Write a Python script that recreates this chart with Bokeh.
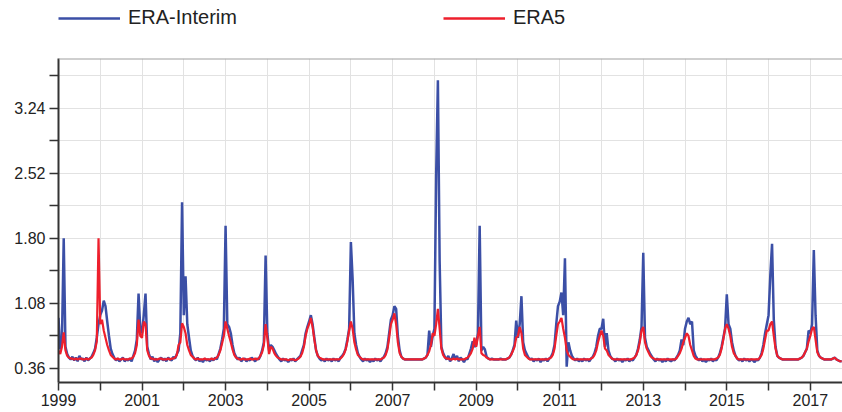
import numpy as np
from bokeh.plotting import figure
from bokeh.layouts import column
from bokeh.models import (Range1d, FixedTicker, PrintfTickFormatter, Legend,
                          LegendItem, Span)
from bokeh.embed import file_html
from bokeh.resources import INLINE

# ---- data (semi-monthly samples) ----
START_YEAR = 1999
STEPS_PER_YEAR = 24

ERA_INTERIM = [
    # 1999
    0.92, 0.57, 0.70, 1.80, 0.60, 0.52, 0.48, 0.46, 0.49, 0.45, 0.48, 0.44, 0.50, 0.46, 0.47, 0.44, 0.48, 0.45, 0.47, 0.49, 0.53, 0.58, 0.70, 0.85,
    # 2000
    0.95, 1.00, 1.11, 1.05, 0.88, 0.72, 0.58, 0.52, 0.48, 0.45, 0.47, 0.44, 0.46, 0.48, 0.44, 0.46, 0.45, 0.47, 0.44, 0.50, 0.56, 0.68, 1.19, 0.80,
    # 2001
    0.75, 0.95, 1.19, 0.60, 0.52, 0.46, 0.49, 0.44, 0.47, 0.43, 0.46, 0.48, 0.45, 0.47, 0.44, 0.48, 0.46, 0.45, 0.49, 0.47, 0.52, 0.56, 0.75, 2.20,
    # 2002
    0.95, 1.38, 0.85, 0.70, 0.56, 0.50, 0.47, 0.45, 0.48, 0.44, 0.46, 0.43, 0.47, 0.45, 0.46, 0.44, 0.47, 0.45, 0.48, 0.46, 0.52, 0.58, 0.68, 0.80,
    # 2003
    1.94, 0.85, 0.82, 0.75, 0.62, 0.53, 0.49, 0.46, 0.48, 0.44, 0.46, 0.47, 0.44, 0.46, 0.45, 0.48, 0.46, 0.44, 0.47, 0.46, 0.50, 0.56, 0.65, 1.61,
    # 2004
    0.75, 0.56, 0.62, 0.60, 0.56, 0.52, 0.49, 0.46, 0.44, 0.47, 0.45, 0.46, 0.43, 0.46, 0.45, 0.47, 0.44, 0.46, 0.48, 0.50, 0.56, 0.62, 0.75, 0.82,
    # 2005
    0.88, 0.95, 0.85, 0.70, 0.56, 0.50, 0.47, 0.45, 0.46, 0.44, 0.47, 0.45, 0.46, 0.44, 0.47, 0.45, 0.46, 0.44, 0.48, 0.50, 0.53, 0.58, 0.68, 0.80,
    # 2006
    1.76, 1.35, 0.75, 0.62, 0.53, 0.49, 0.46, 0.44, 0.47, 0.45, 0.46, 0.43, 0.46, 0.44, 0.47, 0.45, 0.46, 0.44, 0.47, 0.49, 0.53, 0.60, 0.75, 0.90,
    # 2007
    0.95, 1.05, 1.02, 0.72, 0.56, 0.49, 0.47, 0.46, 0.46, 0.46, 0.46, 0.46, 0.46, 0.46, 0.46, 0.46, 0.46, 0.46, 0.47, 0.48, 0.51, 0.78, 0.60, 0.72,
    # 2008
    0.80, 2.50, 3.55, 1.55, 0.60, 0.53, 0.49, 0.46, 0.50, 0.44, 0.47, 0.52, 0.46, 0.50, 0.44, 0.48, 0.46, 0.43, 0.47, 0.46, 0.52, 0.58, 0.66, 0.60,
    # 2009
    0.62, 0.75, 1.94, 0.56, 0.60, 0.57, 0.49, 0.47, 0.46, 0.47, 0.46, 0.46, 0.46, 0.46, 0.47, 0.46, 0.46, 0.46, 0.47, 0.48, 0.51, 0.56, 0.62, 0.89,
    # 2010
    0.70, 0.85, 1.16, 0.65, 0.56, 0.52, 0.48, 0.46, 0.47, 0.44, 0.46, 0.45, 0.47, 0.43, 0.46, 0.45, 0.47, 0.44, 0.47, 0.49, 0.53, 0.62, 0.85, 1.05,
    # 2011
    1.10, 1.20, 0.95, 1.58, 0.38, 0.65, 0.56, 0.50, 0.47, 0.45, 0.47, 0.44, 0.46, 0.44, 0.47, 0.45, 0.46, 0.44, 0.47, 0.49, 0.53, 0.60, 0.72, 0.80,
    # 2012
    0.80, 0.91, 0.60, 0.75, 0.56, 0.50, 0.47, 0.46, 0.44, 0.47, 0.45, 0.46, 0.43, 0.46, 0.45, 0.47, 0.44, 0.46, 0.45, 0.48, 0.51, 0.58, 0.68, 0.82,
    # 2013
    1.64, 0.70, 0.60, 0.56, 0.52, 0.49, 0.46, 0.44, 0.47, 0.45, 0.46, 0.43, 0.46, 0.44, 0.47, 0.45, 0.44, 0.46, 0.45, 0.48, 0.51, 0.56, 0.68, 0.62,
    # 2014
    0.80, 0.88, 0.92, 0.85, 0.88, 0.56, 0.50, 0.47, 0.45, 0.47, 0.44, 0.46, 0.43, 0.46, 0.45, 0.47, 0.44, 0.46, 0.45, 0.48, 0.53, 0.60, 0.70, 0.80,
    # 2015
    1.18, 0.85, 0.80, 0.65, 0.56, 0.50, 0.47, 0.45, 0.46, 0.44, 0.47, 0.45, 0.46, 0.44, 0.46, 0.45, 0.43, 0.46, 0.45, 0.48, 0.53, 0.62, 0.75, 0.85,
    # 2016
    0.95, 1.39, 1.74, 0.90, 0.60, 0.50, 0.48, 0.47, 0.46, 0.46, 0.46, 0.46, 0.46, 0.46, 0.46, 0.46, 0.46, 0.46, 0.47, 0.48, 0.50, 0.54, 0.58, 0.78,
    # 2017
    0.75, 0.85, 1.67, 0.95, 0.56, 0.50, 0.48, 0.47, 0.46, 0.46, 0.46, 0.46, 0.46, 0.47, 0.48, 0.46, 0.45, 0.44, 0.44,
]

ERA5 = [
    # 1999
    0.56, 0.52, 0.60, 0.76, 0.56, 0.50, 0.48, 0.47, 0.47, 0.46, 0.47, 0.46, 0.47, 0.47, 0.46, 0.46, 0.47, 0.46, 0.47, 0.48, 0.51, 0.56, 0.66, 1.80,
    # 2000
    0.85, 0.90, 0.78, 0.70, 0.62, 0.56, 0.51, 0.49, 0.47, 0.46, 0.47, 0.46, 0.46, 0.47, 0.46, 0.46, 0.46, 0.47, 0.47, 0.49, 0.53, 0.62, 0.90, 0.72,
    # 2001
    0.70, 0.88, 0.85, 0.56, 0.50, 0.47, 0.47, 0.46, 0.46, 0.46, 0.47, 0.47, 0.46, 0.46, 0.46, 0.47, 0.46, 0.47, 0.47, 0.48, 0.51, 0.62, 0.65, 0.86,
    # 2002
    0.82, 0.75, 0.62, 0.56, 0.51, 0.49, 0.47, 0.46, 0.47, 0.46, 0.46, 0.46, 0.47, 0.46, 0.46, 0.46, 0.47, 0.46, 0.47, 0.48, 0.51, 0.56, 0.64, 0.72,
    # 2003
    0.88, 0.80, 0.72, 0.65, 0.57, 0.51, 0.48, 0.47, 0.46, 0.46, 0.47, 0.46, 0.46, 0.46, 0.47, 0.46, 0.46, 0.47, 0.46, 0.47, 0.50, 0.54, 0.62, 0.85,
    # 2004
    0.70, 0.52, 0.60, 0.58, 0.53, 0.50, 0.48, 0.47, 0.46, 0.46, 0.46, 0.46, 0.45, 0.46, 0.46, 0.46, 0.45, 0.46, 0.47, 0.49, 0.53, 0.60, 0.72, 0.80,
    # 2005
    0.85, 0.92, 0.82, 0.68, 0.56, 0.50, 0.48, 0.47, 0.46, 0.46, 0.46, 0.46, 0.46, 0.46, 0.46, 0.46, 0.46, 0.46, 0.47, 0.49, 0.52, 0.57, 0.66, 0.78,
    # 2006
    0.88, 0.80, 0.65, 0.57, 0.51, 0.49, 0.47, 0.46, 0.46, 0.46, 0.46, 0.46, 0.46, 0.46, 0.46, 0.46, 0.46, 0.46, 0.47, 0.48, 0.51, 0.57, 0.70, 0.85,
    # 2007
    0.90, 0.97, 0.85, 0.65, 0.53, 0.49, 0.47, 0.46, 0.46, 0.46, 0.46, 0.46, 0.46, 0.46, 0.46, 0.46, 0.46, 0.46, 0.47, 0.48, 0.51, 0.55, 0.62, 0.75,
    # 2008
    0.72, 0.85, 1.02, 0.80, 0.58, 0.51, 0.48, 0.47, 0.47, 0.46, 0.46, 0.47, 0.46, 0.47, 0.46, 0.46, 0.46, 0.46, 0.47, 0.48, 0.50, 0.53, 0.58, 0.70,
    # 2009
    0.60, 0.72, 0.82, 0.53, 0.51, 0.50, 0.48, 0.47, 0.46, 0.46, 0.46, 0.46, 0.46, 0.46, 0.46, 0.46, 0.46, 0.46, 0.47, 0.48, 0.51, 0.55, 0.60, 0.70,
    # 2010
    0.72, 0.82, 0.75, 0.58, 0.51, 0.49, 0.47, 0.46, 0.46, 0.46, 0.46, 0.46, 0.46, 0.46, 0.46, 0.46, 0.46, 0.46, 0.47, 0.48, 0.51, 0.58, 0.72, 0.85,
    # 2011
    0.88, 0.92, 0.80, 0.70, 0.56, 0.51, 0.49, 0.47, 0.46, 0.46, 0.46, 0.46, 0.46, 0.46, 0.46, 0.46, 0.46, 0.46, 0.47, 0.48, 0.51, 0.56, 0.65, 0.72,
    # 2012
    0.78, 0.72, 0.58, 0.56, 0.51, 0.49, 0.47, 0.46, 0.46, 0.46, 0.46, 0.46, 0.46, 0.46, 0.46, 0.46, 0.46, 0.46, 0.47, 0.48, 0.51, 0.56, 0.65, 0.78,
    # 2013
    0.82, 0.65, 0.58, 0.54, 0.50, 0.48, 0.47, 0.46, 0.46, 0.46, 0.46, 0.46, 0.46, 0.46, 0.46, 0.46, 0.46, 0.46, 0.46, 0.47, 0.50, 0.53, 0.58, 0.65,
    # 2014
    0.70, 0.75, 0.72, 0.62, 0.56, 0.50, 0.47, 0.46, 0.46, 0.46, 0.46, 0.46, 0.46, 0.46, 0.46, 0.46, 0.46, 0.46, 0.47, 0.48, 0.51, 0.58, 0.68, 0.80,
    # 2015
    0.85, 0.80, 0.72, 0.60, 0.53, 0.50, 0.47, 0.46, 0.46, 0.46, 0.46, 0.46, 0.46, 0.46, 0.46, 0.46, 0.46, 0.46, 0.46, 0.48, 0.51, 0.58, 0.68, 0.78,
    # 2016
    0.78, 0.85, 0.88, 0.72, 0.58, 0.50, 0.48, 0.47, 0.46, 0.46, 0.46, 0.46, 0.46, 0.46, 0.46, 0.46, 0.46, 0.46, 0.47, 0.48, 0.50, 0.54, 0.58, 0.66,
    # 2017
    0.72, 0.80, 0.82, 0.68, 0.54, 0.50, 0.48, 0.47, 0.46, 0.46, 0.46, 0.46, 0.46, 0.47, 0.48, 0.46, 0.45, 0.44, 0.44,
]

SERIES_NAMES = ["ERA-Interim", "ERA5"]
SERIES_COLORS = ["#3b4fa6", "#ee1f2c"]

X_TICKS = [1999, 2001, 2003, 2005, 2007, 2009, 2011, 2013, 2015, 2017]
X_MINOR = [2000, 2002, 2004, 2006, 2008, 2010, 2012, 2014, 2016]
Y_TICKS = [0.36, 1.08, 1.80, 2.52, 3.24]
Y_MINOR = [0.72, 1.44, 2.16, 2.88, 3.60]
X_START, X_END = 1999.0, 2017.77
Y_START, Y_END = 0.205, 3.79

FONT = "Liberation Sans"
TEXT = "#222222"
GRID = "#e2e2e2"
AXIS = "#333333"

W = 842
LEG_H = 57
MAIN_H = 412 - LEG_H

t = START_YEAR + np.arange(len(ERA5)) / STEPS_PER_YEAR

# ---- legend strip on top (its lines lie outside this strip's x range) ----
lf = figure(width=W, height=LEG_H, output_backend="svg", toolbar_location=None,
            x_axis_type=None, y_axis_type=None,
            x_range=Range1d(0, W), y_range=Range1d(0, LEG_H),
            min_border=0, min_border_left=0, min_border_right=0,
            min_border_top=0, min_border_bottom=0)
lf.outline_line_color = None
lf.grid.visible = False
d1 = lf.line(t, ERA_INTERIM, line_color=SERIES_COLORS[0], line_width=2.6)
d2 = lf.line(t, ERA5, line_color=SERIES_COLORS[1], line_width=2.6)
legend = Legend(items=[LegendItem(label=SERIES_NAMES[0], renderers=[d1]),
                       LegendItem(label=SERIES_NAMES[1], renderers=[d2])],
                orientation="horizontal", location=(0, LEG_H - 29),
                glyph_width=62, glyph_height=20, label_standoff=8,
                label_width=290, spacing=25, padding=0, margin=0,
                border_line_color=None, background_fill_alpha=0,
                label_text_font=FONT, label_text_font_size="20px",
                label_text_color=TEXT)
lf.add_layout(legend)

# ---- main chart ----
p = figure(width=W, height=MAIN_H, output_backend="svg", toolbar_location=None,
           x_range=Range1d(X_START, X_END), y_range=Range1d(Y_START, Y_END),
           min_border_left=58, min_border_right=0, min_border_top=1,
           min_border_bottom=30)
p.outline_line_color = None
p.background_fill_color = "white"
p.border_fill_color = "white"

p.xaxis.ticker = FixedTicker(ticks=X_TICKS, minor_ticks=X_MINOR)
p.yaxis.ticker = FixedTicker(ticks=Y_TICKS, minor_ticks=Y_MINOR)
p.xaxis.formatter = PrintfTickFormatter(format="%d")
p.yaxis.formatter = PrintfTickFormatter(format="%.2f")

for ax in (p.xaxis, p.yaxis):
    ax.axis_line_color = AXIS
    ax.axis_line_width = 2
    ax.major_tick_line_color = AXIS
    ax.minor_tick_line_color = AXIS
    ax.major_tick_line_width = 1.5
    ax.minor_tick_line_width = 1.5
    ax.major_tick_in = 0
    ax.minor_tick_in = 0
    ax.major_tick_out = 9
    ax.minor_tick_out = 9
    ax.major_label_text_font = FONT
    ax.major_label_text_font_size = "16px"
    ax.major_label_text_color = TEXT
p.xaxis.major_tick_out = 8
p.xaxis.minor_tick_out = 8
p.yaxis.major_label_standoff = 4
p.xaxis.major_label_standoff = 3

for g in (p.xgrid, p.ygrid):
    g.grid_line_color = GRID
    g.minor_grid_line_color = GRID
    g.grid_line_width = 1
    g.minor_grid_line_width = 1

p.add_layout(Span(location=Y_END, dimension="width", line_color="#a0a0a0",
                  line_width=2))

p.line(t, ERA_INTERIM, line_color=SERIES_COLORS[0], line_width=2.5)
p.line(t, ERA5, line_color=SERIES_COLORS[1], line_width=2.2)

layout = column(lf, p, spacing=0)
open("out.html", "w").write(file_html(layout, INLINE))
